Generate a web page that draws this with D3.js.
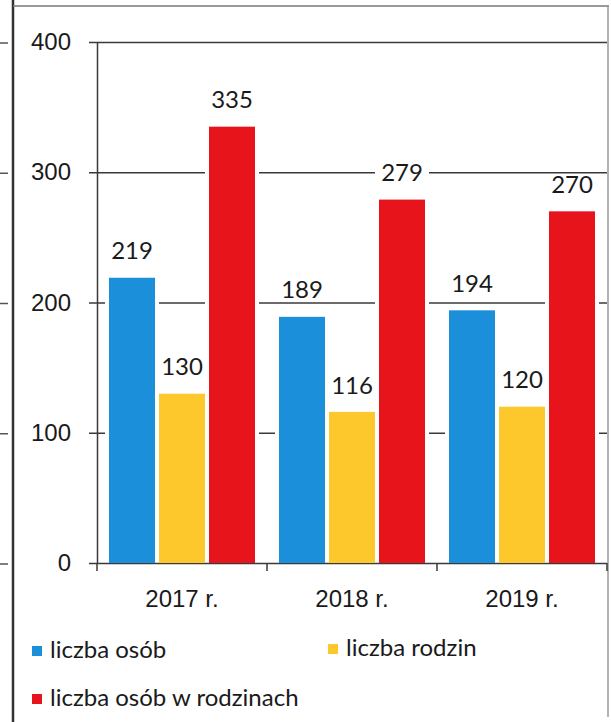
<!DOCTYPE html>
<meta charset="utf-8">
<style>
    body { margin: 0; background: #fff; }
    svg { font-family: Lato, "Open Sans", sans-serif; }
    .grid line { stroke: #3a3a3a; stroke-width: 1.5; }
    .grid text, .xaxis text, .lbl, .legend text { fill: #1a1a1a; font-size: 24px; }
    .yline path, .xaxis path { stroke: #3a3a3a; stroke-width: 1.5; }
</style>
<body>
<script src="https://cdn.jsdelivr.net/npm/d3@7"></script>
<script>
    // chart values
    const years = ["2017 r.", "2018 r.", "2019 r."];
    const seriesNames = ["liczba osób", "liczba rodzin", "liczba osób w rodzinach"];
    const liczbaOsob = [219, 189, 194];
    const liczbaRodzin = [130, 116, 120];
    const liczbaOsobWRodzinach = [335, 279, 270];
    const yTicks = [0, 100, 200, 300, 400];

    const colors = ["#1c8fdb", "#fdc82b", "#e8141b"];
    const seriesValues = [liczbaOsob, liczbaRodzin, liczbaOsobWRodzinach];

    const width = 611, height = 722;
    const svg = d3.select("body").append("svg")
        .attr("width", width)
        .attr("height", height);

    // scanned page frame bits
    svg.append("line").attr("x1", 13).attr("x2", 13).attr("y1", 0).attr("y2", height)
        .attr("stroke", "#333").attr("stroke-width", 2.5);
    svg.append("line").attr("x1", 13).attr("x2", 609).attr("y1", 6).attr("y2", 6)
        .attr("stroke", "#777").attr("stroke-width", 1.5);
    svg.append("line").attr("x1", 608).attr("x2", 608).attr("y1", 6).attr("y2", 717)
        .attr("stroke", "#999").attr("stroke-width", 1.5);

    const y = d3.scaleLinear().domain([0, 400]).range([563, 42]);
    const x0 = d3.scaleBand().domain(years).range([97, 607]);
    const x1 = d3.scaleBand().domain(seriesNames).range([12, 158]).paddingInner(0.08);

    // stray tick fragments left of the frame
    svg.append("g").selectAll("line")
        .data(yTicks)
        .enter().append("line")
        .attr("x1", 0).attr("x2", 8)
        .attr("y1", d => y(d) + 1).attr("y2", d => y(d) + 1)
        .attr("stroke", "#555").attr("stroke-width", 1.5);

    // gridlines + y labels
    svg.append("g")
        .attr("class", "grid")
        .attr("transform", "translate(89,0)")
        .call(d3.axisLeft(y).tickValues(yTicks).tickSize(-(607 - 89)).tickPadding(18))
        .call(g => g.select(".domain").remove())
        .call(g => g.selectAll("text").attr("font-family", null).attr("font-size", null));

    // vertical axis line
    svg.append("g")
        .attr("class", "yline")
        .attr("transform", "translate(97,0)")
        .call(d3.axisLeft(y).tickValues([]).tickSizeOuter(0));

    // x axis labels
    svg.append("g")
        .attr("class", "xaxis")
        .attr("transform", "translate(0,563)")
        .call(d3.axisBottom(x0).tickSize(0).tickPadding(27))
        .call(g => g.select(".domain").remove())
        .call(g => g.selectAll("text").attr("font-family", null).attr("font-size", null));

    // category boundary ticks
    const bounds = years.map(d => x0(d)).concat([x0.range()[1]]);
    svg.append("g").selectAll("line")
        .data(bounds)
        .enter().append("line")
        .attr("x1", d => d).attr("x2", d => d)
        .attr("y1", 563).attr("y2", 571)
        .attr("stroke", "#3a3a3a").attr("stroke-width", 1.5);

    // flat data rows
    const rows = [];
    years.forEach((yr, i) => {
        seriesNames.forEach((s, j) => {
            rows.push({year: yr, series: s, value: seriesValues[j][i], color: colors[j]});
        });
    });

    const groups = svg.append("g").attr("class", "bars");

    // white halo so gridlines break around bars
    groups.selectAll(".halo")
        .data(rows)
        .enter().append("rect")
        .attr("class", "halo")
        .attr("x", d => x0(d.year) + x1(d.series) - 4)
        .attr("width", x1.bandwidth() + 8)
        .attr("y", d => y(d.value))
        .attr("height", d => y(0) - y(d.value) - 1)
        .attr("fill", "#fff");

    groups.selectAll(".bar")
        .data(rows)
        .enter().append("rect")
        .attr("class", "bar")
        .attr("x", d => x0(d.year) + x1(d.series))
        .attr("width", x1.bandwidth())
        .attr("y", d => y(d.value))
        .attr("height", d => y(0) - y(d.value))
        .attr("fill", d => d.color);

    // value labels with white box
    const lbl = svg.append("g").selectAll("g")
        .data(rows)
        .enter().append("g")
        .attr("transform", d => `translate(${x0(d.year) + x1(d.series) + x1.bandwidth() / 2},${y(d.value) - 27})`);
    lbl.append("rect")
        .attr("x", -27).attr("width", 54)
        .attr("y", -8).attr("height", 16)
        .attr("fill", "#fff");
    lbl.append("text")
        .attr("class", "lbl")
        .attr("text-anchor", "middle")
        .attr("dy", "0.36em")
        .text(d => d.value);

    // legend
    const legendPos = [[32, 651], [328, 649], [32, 699]];
    const legend = svg.append("g").attr("class", "legend")
        .selectAll("g")
        .data(seriesNames)
        .enter().append("g")
        .attr("transform", (d, i) => `translate(${legendPos[i][0]},${legendPos[i][1]})`);
    legend.append("rect")
        .attr("x", 0).attr("y", -5)
        .attr("width", 10).attr("height", 10)
        .attr("fill", (d, i) => colors[i]);
    legend.append("text")
        .attr("x", 18)
        .attr("dy", "0.3em")
        .text(d => d);
</script>
</body>
</html>
